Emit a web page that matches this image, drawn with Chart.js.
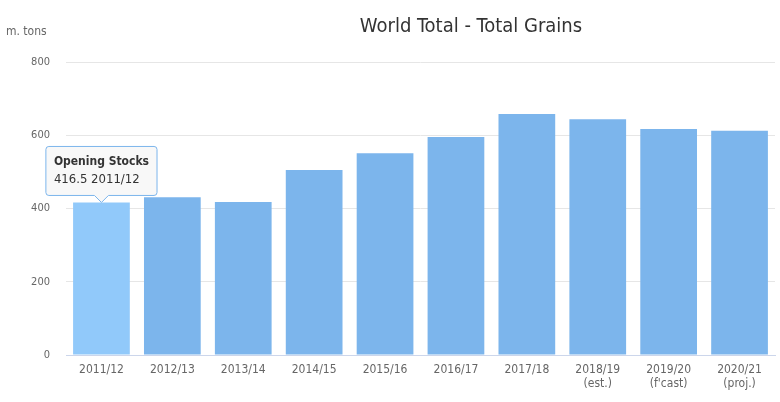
<!DOCTYPE html>
<html>
<head>
<meta charset="utf-8">
<script src="https://cdn.jsdelivr.net/npm/chart.js@4/dist/chart.umd.min.js"></script>
<style>
  html, body { margin: 0; padding: 0; background: #fff; }
  #wrap { width: 780px; height: 402px; }
</style>
</head>
<body>
<div id="wrap"><canvas id="grains" width="780" height="402"></canvas></div>
<script>
// Chart data
const seasons = ['2011/12', '2012/13', '2013/14', '2014/15', '2015/16', '2016/17', '2017/18',
    ['2018/19', '(est.)'], ['2019/20', "(f'cast)"], ['2020/21', '(proj.)']];
const openingStocks = [416.5, 431, 418, 505, 551, 595, 658, 644, 617, 612];
const yTicks = [0, 200, 400, 600, 800];
const seriesName = 'Opening Stocks';
const chartTitle = 'World Total - Total Grains';
const unitLabel = 'm. tons';

const FONT = "'DejaVu Sans Condensed', 'DejaVu Sans', sans-serif";

// bar colours: the hovered one is lighter
const barColors = openingStocks.map((v, i) => i === 0 ? '#91c9fa' : '#7cb5ec');

// Title + unit label drawn on top
const headerPlugin = {
    id: 'header',
    afterDraw(chart) {
        const ctx = chart.ctx;
        ctx.save();
        ctx.fillStyle = '#333333';
        ctx.font = '20px ' + FONT;
        ctx.textAlign = 'center';
        ctx.textBaseline = 'middle';
        ctx.fillText(chartTitle, 471, 27);
        ctx.fillStyle = '#666666';
        ctx.font = '12px ' + FONT;
        ctx.textAlign = 'left';
        ctx.fillText(unitLabel, 6, 32);
        ctx.restore();
    }
};

const ctx = document.getElementById('grains').getContext('2d');
const chart = new Chart(ctx, {
    type: 'bar',
    data: {
        labels: seasons,
        datasets: [{
            label: seriesName,
            data: openingStocks,
            backgroundColor: barColors,
            hoverBackgroundColor: barColors,
            borderWidth: 0,
            categoryPercentage: 1,
            barPercentage: 0.8
        }]
    },
    options: {
        responsive: false,
        animation: false,
        layout: { padding: { top: 62, right: 5, left: 0, bottom: 0 } },
        plugins: {
            legend: { display: false },
            title: { display: false },
            tooltip: {
                enabled: true,
                backgroundColor: 'rgba(247,247,247,0.9)',
                borderColor: '#7cb5ec',
                borderWidth: 1,
                titleColor: '#333333',
                bodyColor: '#333333',
                titleFont: { family: FONT, size: 12, weight: 'bold' },
                bodyFont: { family: FONT, size: 13 },
                titleMarginBottom: 3,
                padding: { top: 8, bottom: 8, left: 8, right: 8 },
                cornerRadius: 3,
                caretSize: 7,
                caretPadding: 0,
                displayColors: false,
                yAlign: 'bottom',
                xAlign: 'center',
                callbacks: {
                    title: () => seriesName,
                    label: (item) => item.raw + ' ' + seasons[item.dataIndex]
                }
            }
        },
        scales: {
            x: {
                grid: { display: false, drawTicks: false },
                border: { display: true, color: '#ccd6eb', width: 1 },
                ticks: {
                    color: '#666666',
                    font: { family: FONT, size: 12, lineHeight: 1.17 },
                    padding: 8,
                    maxRotation: 0,
                    autoSkip: false
                },
                afterFit(scale) { scale.height = 47; }
            },
            y: {
                min: 0,
                max: 800,
                afterBuildTicks(scale) { scale.ticks = yTicks.map(v => ({ value: v })); },
                grid: { color: '#e6e6e6', drawTicks: false },
                border: { display: false },
                ticks: {
                    color: '#666666',
                    font: { family: FONT, size: 11 },
                    padding: 16
                },
                afterFit(scale) { scale.width = 66; }
            }
        }
    },
    plugins: [headerPlugin]
});

// show the tooltip on the first bar like the reference
chart.tooltip.setActiveElements([{ datasetIndex: 0, index: 0 }], { x: 0, y: 0 });
chart.setActiveElements([{ datasetIndex: 0, index: 0 }]);
chart.update();
</script>
</body>
</html>
